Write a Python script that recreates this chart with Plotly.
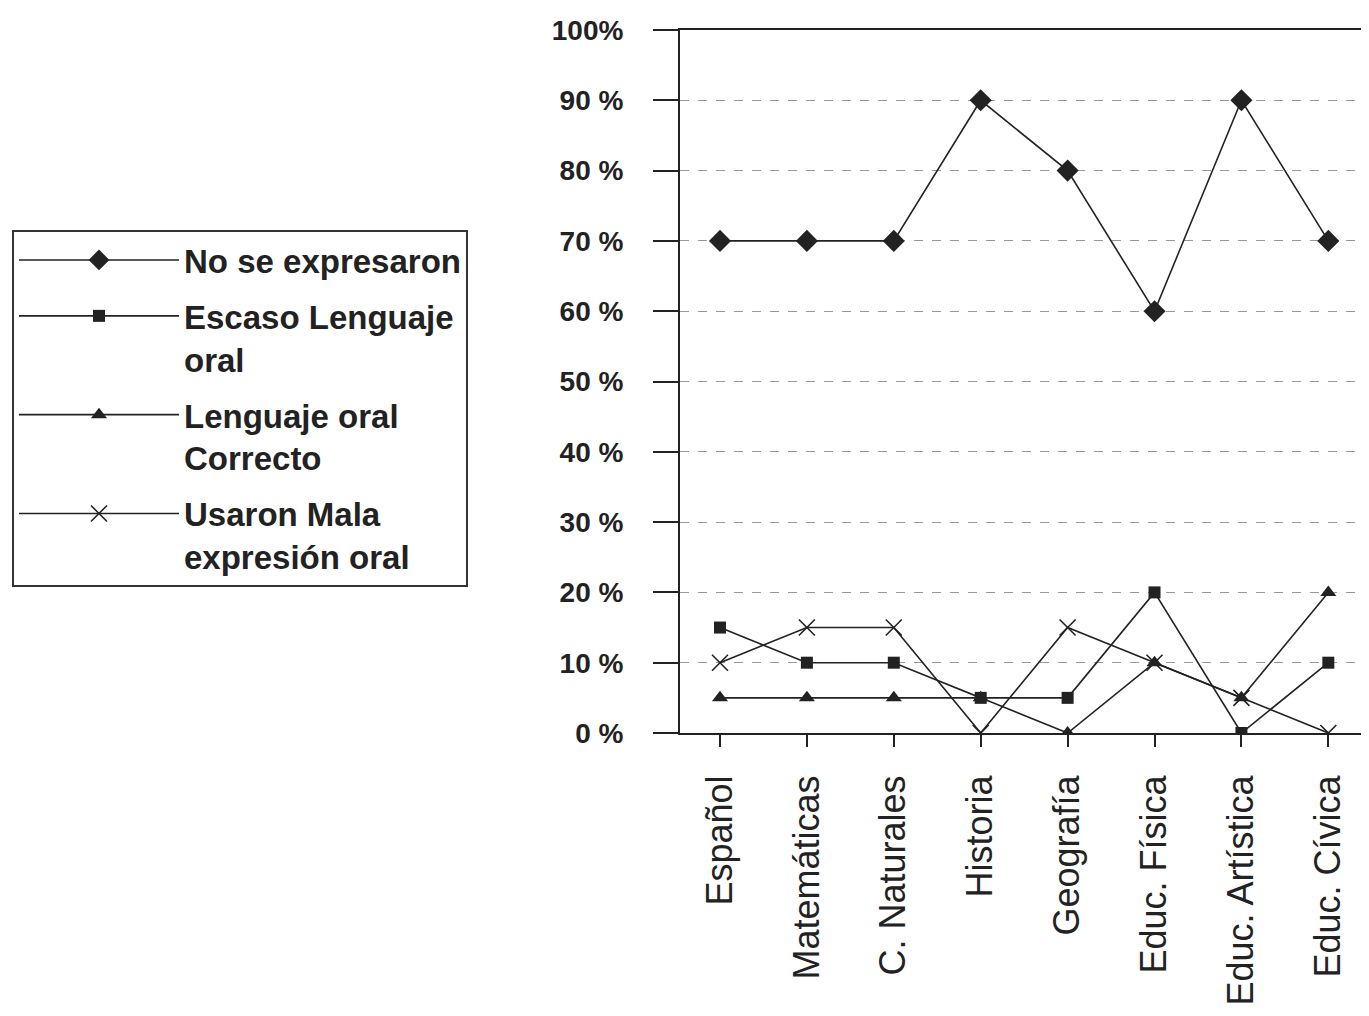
import plotly.graph_objects as go

categories = ["Español", "Matemáticas", "C. Naturales", "Historia", "Geografía",
              "Educ. Física", "Educ. Artística", "Educ. Cívica"]
no_se_expresaron = [70, 70, 70, 90, 80, 60, 90, 70]
escaso_lenguaje = [15, 10, 10, 5, 5, 20, 0, 10]
lenguaje_correcto = [5, 5, 5, 5, 0, 10, 5, 20]
mala_expresion = [10, 15, 15, 0, 15, 10, 5, 0]
y_ticks = [0, 10, 20, 30, 40, 50, 60, 70, 80, 90, 100]
y_tick_labels = ["0 %", "10 %", "20 %", "30 %", "40 %", "50 %", "60 %", "70 %", "80 %", "90 %", "100%"]

series = [
    ("No se expresaron", no_se_expresaron, "diamond", 17, 0),
    ("Escaso Lenguaje<br>oral", escaso_lenguaje, "square", 12, 0),
    ("Lenguaje oral<br>Correcto", lenguaje_correcto, "triangle-up", 14, 0),
    ("Usaron Mala<br>expresión oral", mala_expresion, "x-thin-open", 16, 1.6),
]

fig = go.Figure()
for i, (name, vals, sym, size, lw) in enumerate(series):
    fig.add_trace(go.Scatter(
        x=categories, y=vals, name=name, mode="lines+markers",
        legendgroup=f"g{i}",
        line=dict(color="#222222", width=1.6),
        marker=dict(symbol=sym, size=size, color="#222222",
                    line=dict(color="#222222", width=lw)),
    ))

fig.update_layout(
    width=1369, height=1016,
    margin=dict(l=672, r=0, t=22, b=291),
    paper_bgcolor="white", plot_bgcolor="white",
    font=dict(family="Liberation Sans, Arial, sans-serif", color="#222222"),
    showlegend=True,
    legend=dict(
        x=-0.9584, y=0.7155, xanchor="left", yanchor="top",
        bordercolor="#333333", borderwidth=2, bgcolor="white",
        font=dict(size=33, family="Liberation Sans, Arial, sans-serif", weight="bold", color="#222222"),
        valign="top", itemwidth=160, tracegroupgap=10,
    ),
)
fig.update_xaxes(
    type="category", range=[-0.46, 7.56],
    showline=True, linecolor="#222222", linewidth=2, mirror=True,
    ticks="outside", ticklen=12, tickwidth=2, tickcolor="#222222",
    tickangle=-90, tickfont=dict(size=36, color="#222222"),
    ticklabelstandoff=14, showgrid=False,
)
fig.update_yaxes(
    range=[0, 100], tickvals=y_ticks, ticktext=y_tick_labels,
    showline=True, linecolor="#222222", linewidth=2,
    ticks="outside", ticklen=25, tickwidth=2, tickcolor="#222222",
    tickfont=dict(size=28, color="#222222", weight="bold"),
    ticklabelstandoff=24,
    showgrid=True, gridcolor="#999999", gridwidth=1.2, griddash="dash",
    zeroline=False,
)
fig.write_html("out.html")
